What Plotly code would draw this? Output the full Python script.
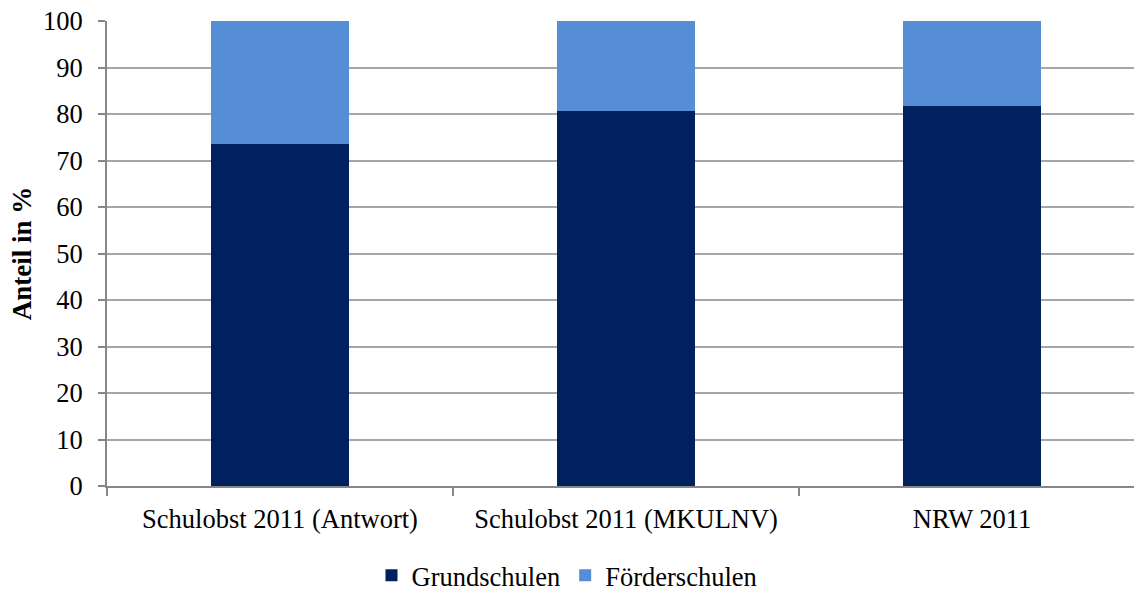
import plotly.graph_objects as go

categories = ["Schulobst 2011 (Antwort)", "Schulobst 2011 (MKULNV)", "NRW 2011"]
grundschulen = [73.5, 80.6, 81.8]
foerderschulen = [26.5, 19.4, 18.2]
y_ticks = [0, 10, 20, 30, 40, 50, 60, 70, 80, 90, 100]

FONT = "Liberation Serif, Times New Roman, serif"
AXIS_GREY = "#878787"
GRID_GREY = "#a6a6a6"
FS = 26.5

fig = go.Figure()
fig.add_trace(go.Bar(
    x=categories, y=grundschulen, name="Grundschulen",
    marker=dict(color="#002060", line=dict(width=0)),
))
fig.add_trace(go.Bar(
    x=categories, y=foerderschulen, name="Förderschulen",
    marker=dict(color="#558ed5", line=dict(width=0)),
))

fig.update_layout(
    width=1134, height=591,
    barmode="stack", bargap=0.6,
    plot_bgcolor="white", paper_bgcolor="white",
    margin=dict(l=107, r=0, t=21, b=105),
    font=dict(family=FONT, size=FS, color="black"),
    showlegend=True,
    legend=dict(
        orientation="h", xref="container", yref="container",
        x=0.5, xanchor="center", y=0.026, yanchor="middle",
        font=dict(family=FONT, size=FS), traceorder="normal",
        itemwidth=30, tracegroupgap=0,
    ),
)
fig.update_xaxes(
    type="category", range=[-0.5, 2.468],
    showline=True, linecolor=AXIS_GREY, linewidth=2,
    ticks="outside", tickson="boundaries", ticklen=8, tickcolor=AXIS_GREY, tickwidth=1.5,
    showgrid=False, tickfont=dict(size=FS), ticklabelstandoff=8,
)
fig.update_yaxes(
    range=[0, 100], tickvals=y_ticks,
    showline=True, linecolor=AXIS_GREY, linewidth=2,
    ticks="outside", ticklen=7, tickcolor=AXIS_GREY, tickwidth=1.5,
    showgrid=True, gridcolor=GRID_GREY, gridwidth=1.5,
    zeroline=False, tickfont=dict(size=FS), ticklabelstandoff=10,
    title=dict(text="<b>Anteil in %</b>", font=dict(size=27), standoff=4),
)

fig.write_html("out.html")
